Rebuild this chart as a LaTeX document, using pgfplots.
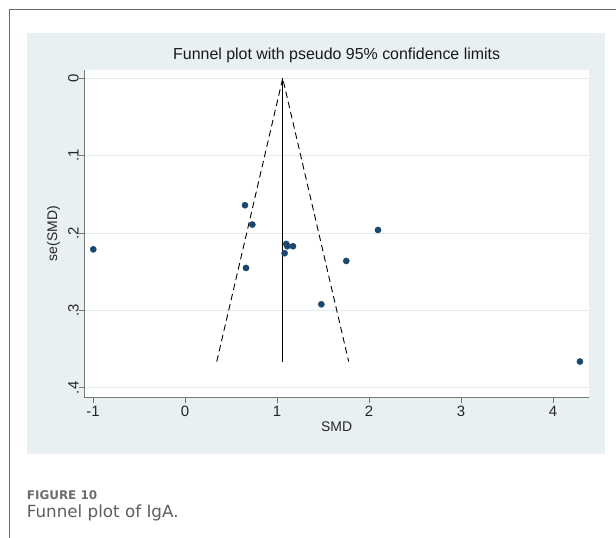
\documentclass[border=0pt]{standalone}
\usepackage{pgfplots}
\pgfplotsset{compat=1.18}
\usepackage{fontspec}
\setmainfont{Liberation Sans}
\newfontfamily\capfont{DejaVu Sans}
\definecolor{panel}{RGB}{233,240,242}
\definecolor{gridc}{RGB}{226,236,239}
\definecolor{stnavy}{RGB}{26,71,111}
\definecolor{axgray}{RGB}{120,120,120}
\definecolor{framegray}{RGB}{105,105,105}
\definecolor{capgray}{RGB}{110,110,110}
\definecolor{capgray2}{RGB}{95,95,95}
\begin{document}
\begin{tikzpicture}[x=1bp,y=1bp]
\useasboundingbox (0,0) rectangle (616,-538);
\fill[white] (0,0) rectangle (616,-538);
\draw[framegray, line width=1bp] (9.3,-538) -- (9.3,-9.3) -- (616,-9.3);
\fill[panel] (26.7,-32.7) rectangle (605,-454);
\begin{axis}[
  at={(84bp,-70bp)}, anchor=north west,
  scale only axis, width=505.3bp, height=327bp,
  xmin=-1.098, xmax=4.395, ymin=-0.0107, ymax=0.4118, y dir=reverse,
  axis x line*=bottom, axis y line*=left,
  axis line style={axgray, line width=0.8bp, -},
  axis background/.style={fill=white},
  xtick={-1,0,1,2,3,4}, xticklabels={-1,0,1,2,3,4},
  ytick={0,0.1,0.2,0.3,0.4}, yticklabels={0,.1,.2,.3,.4},
  tick align=outside, major tick length=5.5bp,
  tick style={axgray, line width=0.8bp},
  ymajorgrids, grid style={gridc, line width=1bp},
  ticklabel style={font=\fontsize{15}{18}\selectfont, text=black!85},
  yticklabel style={rotate=90, anchor=base},
  title={Funnel plot with pseudo 95\% confidence limits},
  title style={at={(axis description cs:0.5,1)}, anchor=base, yshift=4.3bp, font=\fontsize{16}{19}\selectfont, text=black!90},
  xlabel={SMD},
  xlabel style={at={(axis description cs:0.5,0)}, anchor=base, yshift=-34.7bp, font=\fontsize{14}{17}\selectfont, text=black!85},
  ylabel={se(SMD)},
  ylabel style={at={(axis description cs:-0.0534,0.5)}, anchor=base, font=\fontsize{14}{17}\selectfont, text=black!85},
  clip=false,
]
\addplot[black, line width=0.9bp] coordinates {(1.062,0) (1.062,0.366)};
\addplot[black, line width=0.9bp, dash pattern=on 6.5bp off 4bp] coordinates {(0.345,0.366) (1.062,0) (1.779,0.366)};
\addplot[only marks, mark=*, mark size=3.1bp, mark options={draw=stnavy, fill=stnavy}] coordinates {
(0.652,0.164) (0.732,0.189) (2.098,0.196) (1.101,0.214) (1.112,0.217) (1.174,0.217)
(1.083,0.226) (0.663,0.245) (1.753,0.236) (1.482,0.292) (4.293,0.366) (-0.997,0.221)
};
\end{axis}
\node[anchor=base west, inner sep=0, text=capgray, font=\capfont\bfseries\fontsize{12}{14}\selectfont] at (26.7,-499.3) {FIGURE 10};
\node[anchor=base west, inner sep=0, text=capgray2, font=\capfont\fontsize{16.8}{20}\selectfont] at (26.7,-517.3) {Funnel plot of IgA.};
\end{tikzpicture}
\end{document}
